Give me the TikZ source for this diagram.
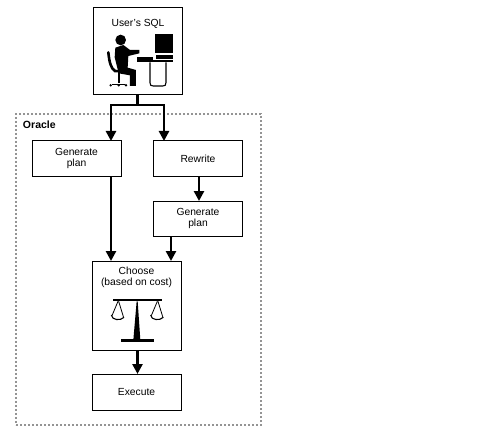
\documentclass[tikz,border=0pt]{standalone}
\usepackage{fontspec}
\setmainfont{Liberation Sans}
\usetikzlibrary{arrows.meta}
\tikzset{
  box/.style={draw=black,line width=1pt,fill=white,minimum width=#1,inner sep=0pt,outer sep=0pt},
  box/.default=89pt,
  lab/.style={font=\fontsize{10.3}{11}\selectfont,align=center,inner sep=0pt,outer sep=0pt},
  conn/.style={line width=2.8pt,-{Triangle[length=10pt,width=10pt]}},
  trunk/.style={line width=2.8pt},
  frame/.style={draw=black!42,line width=2.2pt,dash pattern=on 2.4pt off 1.6pt,inner sep=0pt,outer sep=0pt},
  ink/.style={fill=black,draw=none}
}
\begin{document}
\begin{tikzpicture}[x=1pt,y=-1pt]
\useasboundingbox (0,0) rectangle (504,428);
\fill[white] (0,0) rectangle (504,428);
% frame
\node[frame,minimum width=245pt,minimum height=311pt] (oracle) at (138.5,269.5) {};
\node[lab,anchor=west,font=\fontsize{10.5}{11}\bfseries\selectfont] (oraclelab) at (23,125) {Oracle};
% boxes
\node[box,minimum height=87pt] (user) at (137.5,51.5) {};
\node[lab] (userlab) at (138,24) {User's SQL};
\node[box,minimum height=35pt,lab] (genA) at (76.5,158.5) {Generate\\plan};
\node[box,minimum height=35pt,lab] (rewrite) at (198,158.5) {Rewrite};
\node[box,minimum height=35pt,lab] (genB) at (198,218.5) {Generate\\plan};
\node[box,minimum height=89pt] (choose) at (136.5,305.5) {};
\node[lab] (chooselab) at (136.5,277.5) {Choose\\(based on cost)};
\node[box,minimum height=36pt,lab] (exec) at (136.5,392) {Execute};
% connector guides
\coordinate (xa) at (111,0);
\coordinate (xb) at (164,0);
\coordinate (xc) at (199,0);
\coordinate (xd) at (171,0);
\coordinate (xe) at (137.5,0);
\coordinate (split) at (137.5,105);
% connectors
\draw[trunk] (user.south -| xe) -- (split);
\draw[conn] (split) -- (split -| xa) -- (genA.north -| xa);
\draw[conn] (split) -- (split -| xb) -- (rewrite.north -| xb);
\draw[conn] (genA.south -| xa) -- (choose.north -| xa);
\draw[conn] (rewrite.south -| xc) -- (genB.north -| xc);
\draw[conn] (genB.south -| xd) -- (choose.north -| xd);
\draw[conn] (choose.south -| xe) -- (exec.north -| xe);
% person at desk
\begin{scope}[shift={(90,0)},x=.3333pt,y=-.3333pt]
  \fill (92,120) circle (16);
  \path[ink] (76,143) -- (100,135) -- (120,150) -- (148,150) -- (148,160) -- (115,168) -- (113,203) -- (138,210) -- (138,258) -- (120,258) -- (120,226) -- (86,220) -- (74,172) -- cycle;
  \draw[line width=2.6pt,line cap=round] (55,157) .. controls (58,185) and (62,205) .. (75,213) -- (112,215);
  \draw[line width=2pt] (86,216) -- (86,248);
  \draw[line width=1.6pt] (66,254) -- (106,254);
  \fill (62,256) circle (4) (86,256) circle (4) (108,256) circle (4);
  \path[ink] (195,103) rectangle (250,158);
  \path[ink] (198,165) rectangle (248,178);
  \path[ink] (142,172) rectangle (190,180);
  \path[ink] (140,180) rectangle (250,187);
  \draw[line width=1.1pt] (180,187) -- (180,248) .. controls (180,256) and (183,258) .. (190,258) -- (218,258) .. controls (225,258) and (228,256) .. (228,248) -- (228,187);
\end{scope}
% balance
\begin{scope}[shift={(80,255)},x=.3333pt,y=-.3333pt]
  \path[ink] (100,132) rectangle (245,139);
  \path[ink] (170,139) -- (173,139) -- (181,255) -- (160,255) -- cycle;
  \path[ink] (122,253) rectangle (222,261);
  \foreach \dx in {0,118} {
    \begin{scope}[xshift=\dx*.3333pt]
      \draw[line width=.8pt] (114,139) -- (96,182) (116,139) -- (131,188);
      \draw[line width=1.1pt] (94,180) .. controls (95,196) and (122,198) .. (132,187);
    \end{scope}
  }
\end{scope}
\end{tikzpicture}
\end{document}
